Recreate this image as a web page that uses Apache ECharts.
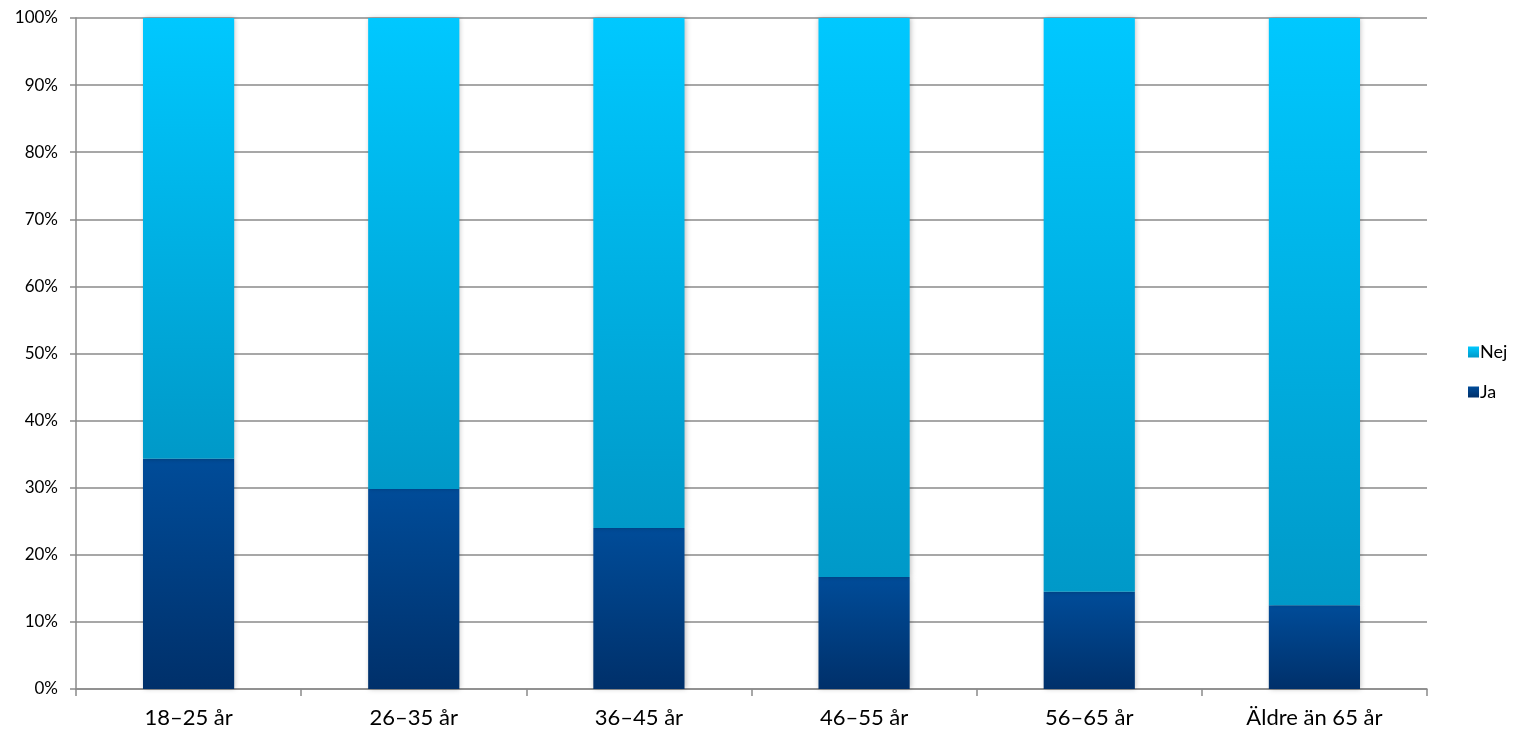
<!DOCTYPE html>
<html>
<head>
<meta charset="utf-8">
<script src="https://cdn.jsdelivr.net/npm/echarts@6/dist/echarts.min.js"></script>
<style>html,body{margin:0;padding:0;background:#fff}#c{width:1516px;height:733px}</style>
</head>
<body>
<div id="c"></div>
<script>
const categories = ['18–25 år', '26–35 år', '36–45 år', '46–55 år', '56–65 år', 'Äldre än 65 år'];
const ja = [34.3, 29.8, 24.0, 16.7, 14.5, 12.5];
const nej = ja.map(v => +(100 - v).toFixed(1));
const yTicks = [0, 10, 20, 30, 40, 50, 60, 70, 80, 90, 100];

const chart = echarts.init(document.getElementById('c'), null, {renderer: 'canvas'});
const grad = (top, bottom) => new echarts.graphic.LinearGradient(0, 0, 0, 1, [
  {offset: 0, color: top}, {offset: 1, color: bottom}
]);
const font = 'Lato, "Open Sans", sans-serif';
chart.setOption({
  animation: false,
  grid: {left: 76, right: 89, top: 18, bottom: 44, containLabel: false},
  legend: {
    orient: 'vertical', left: 1463, top: 338,
    data: ['Nej', 'Ja'],
    itemWidth: 11, itemHeight: 11, itemGap: 22,
    icon: 'rect',
    textStyle: {fontFamily: font, fontSize: 18, color: '#000', padding: [0, 0, 0, -4]}
  },
  xAxis: {
    type: 'category', data: categories,
    axisLine: {lineStyle: {color: '#8a8a8a', width: 1.5}},
    axisTick: {show: true, alignWithLabel: false, length: 7, lineStyle: {color: '#8a8a8a', width: 1.5}},
    axisLabel: {fontFamily: font, fontSize: 22, color: '#000', margin: 18}
  },
  yAxis: {
    type: 'value', min: 0, max: 100, interval: 10,
    axisLine: {show: true, lineStyle: {color: '#8a8a8a', width: 1.5}},
    axisTick: {show: true, length: 6, lineStyle: {color: '#8a8a8a', width: 1.5}},
    splitLine: {lineStyle: {color: '#8a8a8a', width: 1.5}},
    axisLabel: {fontFamily: font, fontSize: 17, color: '#000', margin: 18,
      formatter: v => yTicks.includes(v) ? v + '%' : ''}
  },
  series: [
    {
      name: 'Ja', type: 'bar', stack: 's', data: ja, barWidth: '40.5%',
      itemStyle: {color: grad('#004c99', '#00306a'), shadowBlur: 5, shadowColor: 'rgba(0,0,0,0.25)', shadowOffsetX: 1}
    },
    {
      name: 'Nej', type: 'bar', stack: 's', data: nej, barWidth: '40.5%',
      itemStyle: {color: grad('#00c8ff', '#0099c8'), shadowBlur: 5, shadowColor: 'rgba(0,0,0,0.25)', shadowOffsetX: 1}
    }
  ]
});
</script>
</body>
</html>
